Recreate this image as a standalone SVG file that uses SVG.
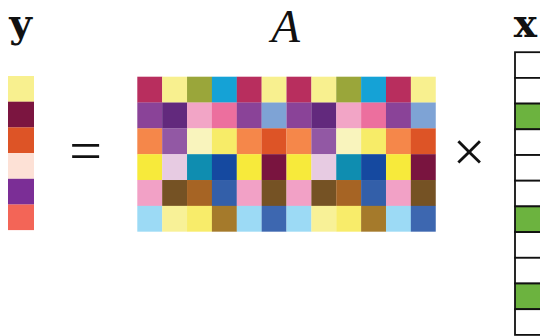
<svg xmlns="http://www.w3.org/2000/svg" width="540" height="336" viewBox="0 0 540 336">
<style>
.lbl{font-family:"Liberation Serif","DejaVu Serif",serif;fill:#111}
.bold{font-family:"DejaVu Serif","Liberation Serif",serif;font-weight:bold;font-size:39px}
.ital{font-style:italic;font-size:47px}
.op{font-family:"Liberation Serif","DejaVu Serif",serif;font-size:58px;fill:#111;text-anchor:middle}
.xc{fill:#fff;stroke:#111;stroke-width:1.8}
.xg{fill:#6cb33f;stroke:#111;stroke-width:1.8}
</style>
<rect width="540" height="336" fill="#fff"/>
<g id="labels">
<text class="lbl bold" x="20.5" y="37" text-anchor="middle">y</text>
<text class="lbl ital" x="285.5" y="42" text-anchor="middle">A</text>
<text class="lbl bold" x="525.5" y="37" text-anchor="middle">x</text>
</g>
<g id="vector-y">
<rect x="8" y="76" width="26" height="25.8" fill="#f8f08f"/>
<rect x="8" y="101.7" width="26" height="25.8" fill="#7b1540"/>
<rect x="8" y="127.4" width="26" height="25.8" fill="#dd5426"/>
<rect x="8" y="153.1" width="26" height="25.8" fill="#fde1d6"/>
<rect x="8" y="178.8" width="26" height="25.8" fill="#7b2e96"/>
<rect x="8" y="204.5" width="26" height="25.6" fill="#f36557"/>
</g>
<g id="equals"><text class="op" x="85.5" y="170">=</text></g>
<g id="matrix-A">
<defs>
<g id="half">
<rect x="0" y="0" width="25" height="26" fill="#b82e5e"/>
<rect x="24.87" y="0" width="25" height="26" fill="#f8f08f"/>
<rect x="49.74" y="0" width="25" height="26" fill="#9aa63a"/>
<rect x="74.61" y="0" width="25" height="26" fill="#15a2d6"/>
<rect x="99.48" y="0" width="25" height="26" fill="#b82e5e"/>
<rect x="124.35" y="0" width="24.9" height="26" fill="#f8f08f"/>
<rect x="0" y="25.83" width="25" height="26" fill="#8a4398"/>
<rect x="24.87" y="25.83" width="25" height="26" fill="#62297d"/>
<rect x="49.74" y="25.83" width="25" height="26" fill="#f2a5c6"/>
<rect x="74.61" y="25.83" width="25" height="26" fill="#ec6f9e"/>
<rect x="99.48" y="25.83" width="25" height="26" fill="#8a4398"/>
<rect x="124.35" y="25.83" width="24.9" height="26" fill="#7ea3d5"/>
<rect x="0" y="51.66" width="25" height="26" fill="#f5874a"/>
<rect x="24.87" y="51.66" width="25" height="26" fill="#9258a4"/>
<rect x="49.74" y="51.66" width="25" height="26" fill="#f9f4bd"/>
<rect x="74.61" y="51.66" width="25" height="26" fill="#f7ec68"/>
<rect x="99.48" y="51.66" width="25" height="26" fill="#f5874a"/>
<rect x="124.35" y="51.66" width="24.9" height="26" fill="#dd5426"/>
<rect x="0" y="77.49" width="25" height="26" fill="#f7ea3b"/>
<rect x="24.87" y="77.49" width="25" height="26" fill="#e7cbe2"/>
<rect x="49.74" y="77.49" width="25" height="26" fill="#0f8db0"/>
<rect x="74.61" y="77.49" width="25" height="26" fill="#1549a0"/>
<rect x="99.48" y="77.49" width="25" height="26" fill="#f7ea3b"/>
<rect x="124.35" y="77.49" width="24.9" height="26" fill="#79143f"/>
<rect x="0" y="103.32" width="25" height="26" fill="#f2a1c6"/>
<rect x="24.87" y="103.32" width="25" height="26" fill="#755224"/>
<rect x="49.74" y="103.32" width="25" height="26" fill="#a66424"/>
<rect x="74.61" y="103.32" width="25" height="26" fill="#335fa9"/>
<rect x="99.48" y="103.32" width="25" height="26" fill="#f2a1c6"/>
<rect x="124.35" y="103.32" width="24.9" height="26" fill="#755224"/>
<rect x="0" y="129.15" width="25" height="25.83" fill="#9cdaf5"/>
<rect x="24.87" y="129.15" width="25" height="25.83" fill="#f8f197"/>
<rect x="49.74" y="129.15" width="25" height="25.83" fill="#f8ec6a"/>
<rect x="74.61" y="129.15" width="25" height="25.83" fill="#a57a2b"/>
<rect x="99.48" y="129.15" width="25" height="25.83" fill="#9cdaf5"/>
<rect x="124.35" y="129.15" width="24.9" height="25.83" fill="#3d67b0"/>
</g>
</defs>
<use href="#half" x="137.3" y="76.7"/>
<use href="#half" x="286.5" y="76.7"/>
</g>
<g id="times"><text class="op" x="469" y="171">×</text></g>
<g id="vector-x">
<rect class="xc" x="515" y="52.2" width="26" height="25.7"/>
<rect class="xc" x="515" y="77.9" width="26" height="25.7"/>
<rect class="xg" x="515" y="103.6" width="26" height="25.7"/>
<rect class="xc" x="515" y="129.3" width="26" height="25.7"/>
<rect class="xc" x="515" y="155" width="26" height="25.7"/>
<rect class="xc" x="515" y="180.7" width="26" height="25.7"/>
<rect class="xg" x="515" y="206.4" width="26" height="25.7"/>
<rect class="xc" x="515" y="232.1" width="26" height="25.7"/>
<rect class="xc" x="515" y="257.8" width="26" height="25.7"/>
<rect class="xg" x="515" y="283.5" width="26" height="25.7"/>
<rect class="xc" x="515" y="309.2" width="26" height="25.7"/>
</g>
</svg>
